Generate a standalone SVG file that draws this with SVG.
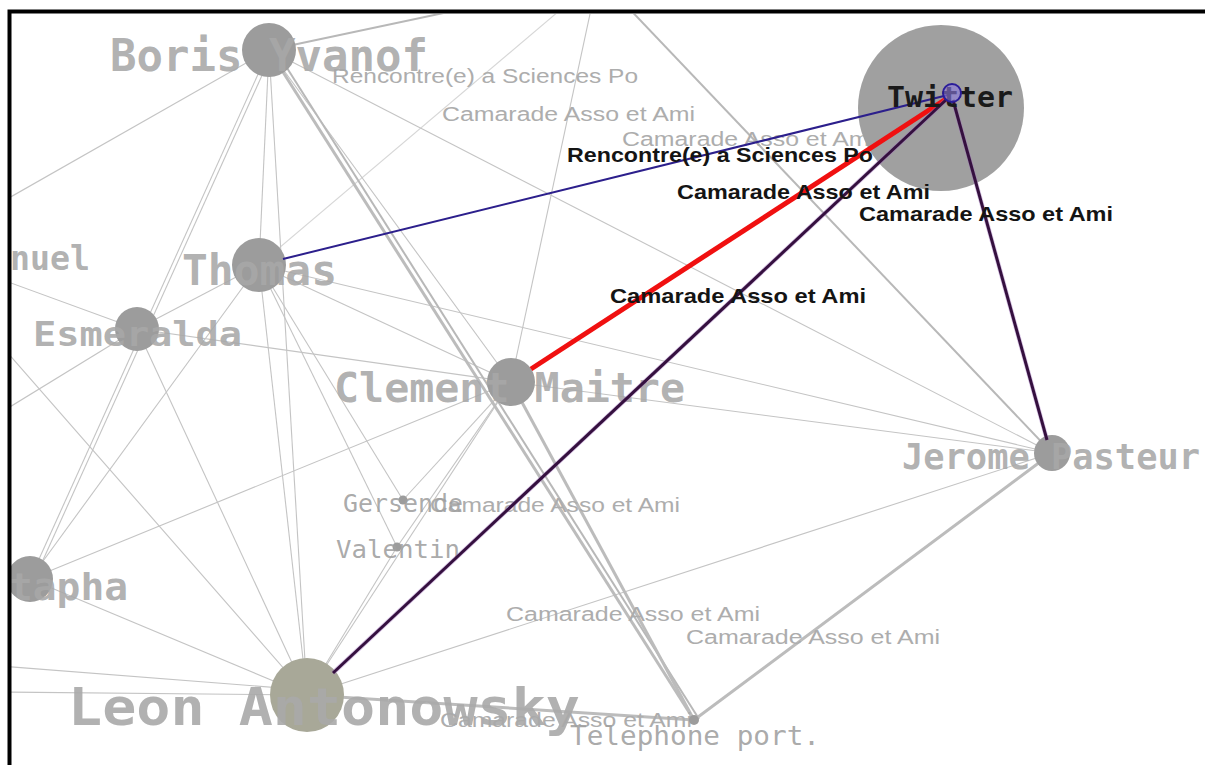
<svg xmlns="http://www.w3.org/2000/svg" width="1205" height="765" viewBox="0 0 1205 765">
<style>
.e{stroke:#c4c4c4;stroke-width:1.1;fill:none}
.e2{stroke:#b8b8b8;stroke-width:2;fill:none}
.t{stroke:#bcbcbc;stroke-width:3;fill:none}
.n{fill:#9c9c9c}
.nl{font-family:"DejaVu Sans Mono",monospace;font-weight:bold;fill:#a8a8a8;fill-opacity:0.9}
.ns{font-family:"DejaVu Sans Mono",monospace;fill:#a0a0a0;fill-opacity:0.9}
.el{font-family:"Liberation Sans",Arial,sans-serif;font-size:20px;fill:#adadad}
.elb{font-family:"Liberation Sans",Arial,sans-serif;font-size:21px;font-weight:bold;fill:#141414}
.hp{stroke:#35103f;stroke-width:3;fill:none}
.hph{stroke:#a070c0;stroke-width:4.5;stroke-opacity:0.4;fill:none}
</style>
<defs>
<clipPath id="area"><rect x="11" y="14" width="1194" height="751"/></clipPath>
</defs>
<rect width="1205" height="765" fill="#fff"/>
<g clip-path="url(#area)">
<g id="connectors">
<line class="e2" x1="269" y1="50" x2="505" y2="0"/>
<line class="e" x1="269" y1="50" x2="0" y2="203"/>
<line class="e" x1="269" y1="50" x2="259" y2="265"/>
<line class="e" x1="269" y1="50" x2="307" y2="695"/>
<line class="e" x1="269" y1="50" x2="30" y2="579"/>
<line class="e" x1="273" y1="51" x2="34" y2="580"/>
<line class="e" x1="269" y1="50" x2="1052" y2="453"/>
<line class="e" x1="269" y1="50" x2="511" y2="382"/>
<line class="e" x1="259" y1="265" x2="572" y2="0" stroke-opacity="0.7"/>
<line class="e" x1="259" y1="265" x2="137" y2="329"/>
<line class="e" x1="259" y1="265" x2="30" y2="579"/>
<line class="e" x1="259" y1="265" x2="307" y2="695"/>
<line class="e" x1="259" y1="265" x2="397" y2="547"/>
<line class="e" x1="259" y1="265" x2="403" y2="500"/>
<line class="e" x1="259" y1="265" x2="511" y2="382"/>
<line class="e" x1="259" y1="265" x2="1052" y2="453"/>
<line class="e" x1="137" y1="329" x2="0" y2="279"/>
<line class="e" x1="137" y1="329" x2="0" y2="413"/>
<line class="e" x1="137" y1="329" x2="511" y2="382"/>
<line class="e" x1="137" y1="329" x2="307" y2="695"/>
<line class="e" x1="30" y1="579" x2="511" y2="382"/>
<line class="e" x1="30" y1="579" x2="307" y2="695"/>
<line class="e" x1="0" y1="344" x2="307" y2="695"/>
<line class="e" x1="0" y1="666" x2="307" y2="690"/>
<line class="e" x1="0" y1="692" x2="307" y2="695"/>
<line class="e" x1="307" y1="695" x2="397" y2="547"/>
<line class="e" x1="307" y1="695" x2="1052" y2="453"/>
<line class="e" x1="307" y1="695" x2="511" y2="382"/>
<line class="e" x1="511" y1="382" x2="397" y2="547"/>
<line class="e" x1="511" y1="382" x2="403" y2="500"/>
<line class="e" x1="511" y1="382" x2="593" y2="0"/>
<line class="e" x1="511" y1="382" x2="1052" y2="453"/>
<line class="e2" x1="621" y1="0" x2="1052" y2="453"/>
<line class="t" x1="269" y1="50" x2="694" y2="720"/>
<line class="e2" x1="275" y1="49" x2="699" y2="719"/>
<line class="t" x1="511" y1="382" x2="694" y2="720"/>
<line class="t" x1="307" y1="695" x2="694" y2="720"/>
<line class="t" x1="694" y1="720" x2="1052" y2="453"/>
</g>
<g id="edge-labels">
<text class="el" x="332" y="83" textLength="306" lengthAdjust="spacingAndGlyphs">Rencontre(e) a Sciences Po</text>
<text class="el" x="442" y="121" textLength="253" lengthAdjust="spacingAndGlyphs">Camarade Asso et Ami</text>
<text class="el" x="622" y="146" textLength="253" lengthAdjust="spacingAndGlyphs">Camarade Asso et Ami</text>
<text class="el" x="430" y="512" textLength="250" lengthAdjust="spacingAndGlyphs">Camarade Asso et Ami</text>
<text class="el" x="506" y="621" textLength="254" lengthAdjust="spacingAndGlyphs">Camarade Asso et Ami</text>
<text class="el" x="686" y="644" textLength="254" lengthAdjust="spacingAndGlyphs">Camarade Asso et Ami</text>
<text class="el" x="440" y="727" textLength="252" lengthAdjust="spacingAndGlyphs">Camarade Asso et Ami</text>
</g>
<g id="node-twitter-halo"><circle cx="941" cy="108" r="83" fill="#a0a0a0"/></g>
<g id="node-boris"><circle class="n" cx="269" cy="50" r="27"/><text class="nl" x="110" y="71" font-size="44" textLength="318" lengthAdjust="spacingAndGlyphs">Boris Yvanof</text></g>
<g id="node-thomas"><circle class="n" cx="259" cy="265" r="27"/><text class="nl" x="182" y="285" font-size="42" textLength="155" lengthAdjust="spacingAndGlyphs">Thomas</text></g>
<g id="node-emmanuel"><text class="nl" x="10" y="270" font-size="33" textLength="80" lengthAdjust="spacingAndGlyphs">nuel</text></g>
<g id="node-esmeralda"><circle class="n" cx="137" cy="329" r="22"/><text class="nl" x="33" y="346" font-size="34" textLength="209" lengthAdjust="spacingAndGlyphs">Esmeralda</text></g>
<g id="node-clement"><circle class="n" cx="511" cy="382" r="24"/><text class="nl" x="334" y="402" font-size="41" textLength="351" lengthAdjust="spacingAndGlyphs">Clement Maitre</text></g>
<g id="node-jerome"><circle class="n" cx="1052" cy="453" r="18"/><text class="nl" x="902" y="469" font-size="36" textLength="298" lengthAdjust="spacingAndGlyphs">Jerome Pasteur</text></g>
<g id="node-gersende"><circle class="n" cx="403" cy="500" r="4.5"/><text class="ns" x="343" y="512" font-size="25" textLength="120" lengthAdjust="spacingAndGlyphs">Gersende</text></g>
<g id="node-valentin"><circle class="n" cx="397" cy="547" r="4.5"/><text class="ns" x="336" y="558" font-size="25" textLength="124" lengthAdjust="spacingAndGlyphs">Valentin</text></g>
<g id="node-mustapha"><circle class="n" cx="30" cy="579" r="23"/><text class="nl" x="9" y="600" font-size="38" textLength="119" lengthAdjust="spacingAndGlyphs">tapha</text></g>
<g id="node-leon"><circle cx="307" cy="695" r="37" fill="#a8a898"/><text class="nl" x="68" y="725" font-size="51" textLength="512" lengthAdjust="spacingAndGlyphs">Leon Antonowsky</text></g>
<g id="node-telephone"><circle class="n" cx="694" cy="720" r="5"/><text class="ns" x="570" y="745" font-size="27" textLength="250" lengthAdjust="spacingAndGlyphs">Telephone port.</text></g>
<g id="highlighted-connectors">
<line x1="283" y1="259" x2="948" y2="95" stroke="#2c1f8c" stroke-width="2"/>
<line x1="531" y1="369" x2="946" y2="99" stroke="#f01010" stroke-width="5"/>
<line class="hph" x1="333" y1="673" x2="947" y2="99"/>
<line class="hp" x1="333" y1="673" x2="947" y2="99"/>
<line class="hph" x1="953" y1="100" x2="1047" y2="440"/>
<line class="hp" x1="953" y1="100" x2="1047" y2="440"/>
</g>
<g id="highlighted-labels">
<text class="elb" x="567" y="162" textLength="306" lengthAdjust="spacingAndGlyphs">Rencontre(e) a Sciences Po</text>
<text class="elb" x="677" y="199" textLength="253" lengthAdjust="spacingAndGlyphs">Camarade Asso et Ami</text>
<text class="elb" x="859" y="221" textLength="254" lengthAdjust="spacingAndGlyphs">Camarade Asso et Ami</text>
<text class="elb" x="610" y="303" textLength="256" lengthAdjust="spacingAndGlyphs">Camarade Asso et Ami</text>
</g>
<g id="node-twitter">
<text x="887" y="107" font-family="DejaVu Sans Mono, monospace" font-weight="bold" font-size="29" fill="#1a1a1a" textLength="126" lengthAdjust="spacingAndGlyphs">Twitter</text>
<circle cx="952" cy="93" r="9" fill="#8c78e0" fill-opacity="0.6" stroke="#2a1c9a" stroke-width="2"/>
</g>
</g>
<path d="M9.5,765 V11.5 H1205" fill="none" stroke="#000" stroke-width="4"/>
</svg>
